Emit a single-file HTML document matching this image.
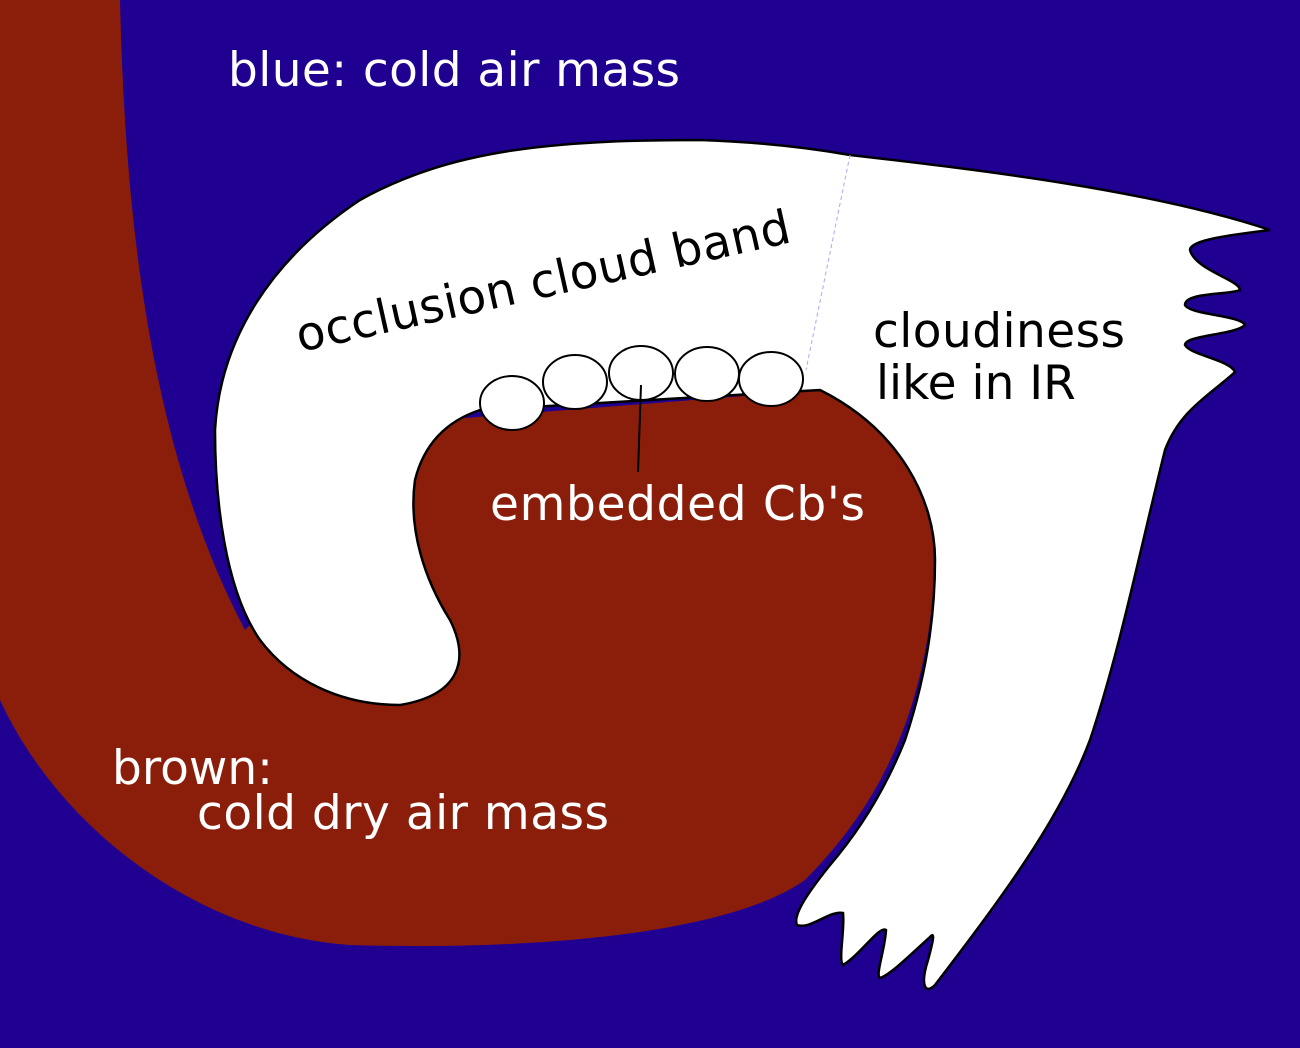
<!DOCTYPE html>
<html><head><meta charset="utf-8"><style>html,body{margin:0;padding:0;background:#1f0091}svg{display:block}</style></head>
<body>
<svg width="1300" height="1048" viewBox="0 0 1300 1048" xmlns="http://www.w3.org/2000/svg" font-family="DejaVu Sans, Liberation Sans, sans-serif">
<rect width="1300" height="1048" fill="#1f0091"/>
<path d="M0,0 L120,0 C125,220 150,450 245,630 L440,420 L820,390 C900,430 935,500 935,560 C930,700 885,800 805,880 C720,940 500,950 350,945 C200,935 60,830 0,700 Z" fill="#8b1e0b"/>
<path d="M480,410 C450,420 425,440 415,480 C408,530 425,580 450,620 C470,660 460,695 400,705 C340,705 290,680 260,640 C225,590 215,500 215,430 C220,340 270,260 360,200 C450,150 550,140 700,140 C760,142 810,148 850,155 C980,170 1150,190 1270,230 C1230,235 1190,240 1190,250 C1195,270 1240,280 1240,290 C1230,295 1185,292 1185,305 C1190,315 1240,315 1245,325 C1235,335 1185,335 1185,345 C1190,355 1230,360 1235,372 C1210,395 1180,410 1165,450 C1140,550 1120,650 1090,740 C1060,820 1000,900 935,985 C925,995 920,985 928,960 C932,945 936,930 930,937 C910,955 890,975 880,978 C875,975 885,950 886,930 C880,925 860,955 843,965 C838,960 845,930 843,913 C830,910 810,930 797,925 C792,915 810,890 830,865 C860,830 885,790 905,740 C925,680 935,620 935,560 C935,500 900,430 820,390 Z" fill="#fff" stroke="#000" stroke-width="2.5"/>
<line x1="850" y1="155" x2="806" y2="370" stroke="#a8a8ff" stroke-width="1" stroke-dasharray="4,3"/>
<g fill="#fff" stroke="#000" stroke-width="2">
<ellipse cx="512" cy="403" rx="32" ry="27"/>
<ellipse cx="575" cy="382" rx="32" ry="27"/>
<ellipse cx="641" cy="373" rx="32" ry="27"/>
<ellipse cx="707" cy="374" rx="32" ry="27"/>
<ellipse cx="771" cy="379" rx="32" ry="27"/>
</g>
<line x1="641" y1="385" x2="638" y2="472" stroke="#000" stroke-width="2"/>
<g font-size="47">
<text x="228" y="86" fill="#fff" textLength="452">blue: cold air mass</text>
<text x="0" y="0" fill="#000" transform="translate(300,352) rotate(-12.6)" textLength="505">occlusion cloud band</text>
<text x="873" y="347" fill="#000" textLength="252">cloudiness</text>
<text x="876" y="399" fill="#000">like in IR</text>
<text x="490" y="520" fill="#fff" textLength="375">embedded Cb's</text>
<text x="112" y="784" fill="#fff">brown:</text>
<text x="197" y="829" fill="#fff" textLength="412">cold dry air mass</text>
</g>
</svg>
</body></html>
